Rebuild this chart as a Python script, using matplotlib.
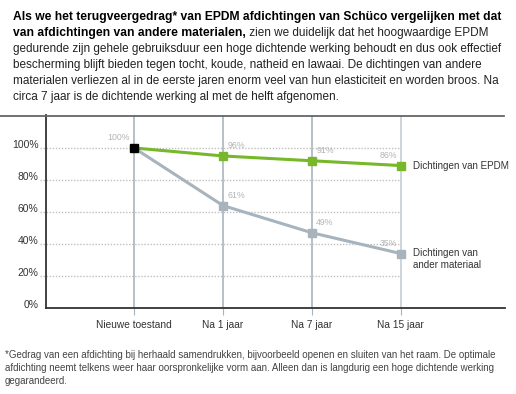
import matplotlib
matplotlib.use("Agg")
from matplotlib import pyplot as plt
from matplotlib.lines import Line2D
from matplotlib.transforms import ScaledTranslation

plt.rcParams['font.family'] = ['Liberation Sans', 'DejaVu Sans']

categories = ["Nieuwe toestand", "Na 1 jaar", "Na 7 jaar", "Na 15 jaar"]
epdm = [100, 95, 92, 89]
epdm_labels = ["100%", "96%", "91%", "86%"]
other = [100, 64, 47, 34]
other_labels = ["", "61%", "49%", "35%"]
yticks = [0, 20, 40, 60, 80, 100]

green = "#76b82a"
grey = "#a7b4bd"
label_grey = "#b4b4b4"
dark = "#333333"

W, H = 516, 394
fig = plt.figure(figsize=(W / 100, H / 100), dpi=100)

# axes placed in pixel coordinates
x0, x1, ytop, ybot = 46, 505, 115, 308
ax = fig.add_axes([x0 / W, 1 - ybot / H, (x1 - x0) / W, (ybot - ytop) / H])
xs = list(range(len(categories)))
ax.set_xlim(-0.99, 4.17)
ax.set_ylim(0, 120.6)

for s in ["top", "right"]:
    ax.spines[s].set_visible(False)
for s in ["left", "bottom"]:
    ax.spines[s].set_color(dark)
    ax.spines[s].set_linewidth(1.3)

# vertical category lines
for i in xs:
    c = "#c5ced4" if i == xs[-1] else "#a9b5bd"
    ax.axvline(i, color=c, lw=1.2, zorder=1)
ax.set_xticks(xs)
ax.set_xticklabels(categories, fontsize=7.3, color=dark)
ax.tick_params(axis="x", length=5, color="#a9b5bd", pad=4)

# dotted horizontal grid
for v in yticks[1:]:
    ax.plot([-1.06, xs[-1]], [v, v], color="#c0c0c0", lw=1.0, ls=(0, (1, 1.2)),
            clip_on=False, zorder=1)
ax.set_yticks(yticks)
ax.set_yticklabels([f"{v}%" for v in yticks], fontsize=7.5, color=dark)
ax.tick_params(axis="y", length=0, pad=5.5)
shift = ScaledTranslation(0, 4 / 100, fig.dpi_scale_trans)
for lab in ax.get_yticklabels():
    lab.set_transform(lab.get_transform() + shift)

ax.plot(xs, other, color=grey, lw=2.2, zorder=3)
ax.plot(xs[1:], other[1:], "s", color=grey, ms=5.5, zorder=4)
ax.plot(xs, epdm, color=green, lw=2.2, zorder=3)
ax.plot(xs[1:], epdm[1:], "s", color=green, ms=5.5, zorder=4)
ax.plot(xs[0], epdm[0], "s", color="black", ms=5.5, zorder=5)

for i in xs:
    right_side = i in (1, 2)
    for vals, labs in ((epdm, epdm_labels), (other, other_labels)):
        if not labs[i]:
            continue
        ax.annotate(labs[i], (i, vals[i]), xytext=(3 if right_side else -3, 4),
                    textcoords="offset points", fontsize=6.3, color=label_grey,
                    ha="left" if right_side else "right", va="bottom")

ax.annotate("Dichtingen van EPDM", (xs[-1], epdm[-1]), xytext=(8.5, 0),
            textcoords="offset points", fontsize=7.1, color=dark, va="center")
ax.annotate("Dichtingen van\nander materiaal", (xs[-1], other[-1]), xytext=(8.5, 4),
            textcoords="offset points", fontsize=7.1, color=dark, va="top",
            linespacing=1.3)

# top rule
fig.add_artist(Line2D([0, 504 / W], [1 - 115.5 / H] * 2, color="#666666", lw=1.3))

# intro paragraph
fs_bold = 8.7
fs = 8.45
line_y = [17, 33, 49, 65, 81, 97]
fig.text(13 / W, 1 - line_y[0] / H,
         "Als we het terugveergedrag* van EPDM afdichtingen van Schüco vergelijken met dat",
         fontsize=fs_bold, fontweight="bold", color="black", va="center")
t2 = fig.text(13 / W, 1 - line_y[1] / H, "van afdichtingen van andere materialen,",
              fontsize=fs_bold, fontweight="bold", color="black", va="center")
ax.annotate(" zien we duidelijk dat het hoogwaardige EPDM", xy=(1, 0),
            xycoords=t2, fontsize=fs, color="#222222", va="bottom", ha="left",
            annotation_clip=False)
rest = [
    "gedurende zijn gehele gebruiksduur een hoge dichtende werking behoudt en dus ook effectief",
    "bescherming blijft bieden tegen tocht, koude, natheid en lawaai. De dichtingen van andere",
    "materialen verliezen al in de eerste jaren enorm veel van hun elasticiteit en worden broos. Na",
    "circa 7 jaar is de dichtende werking al met de helft afgenomen.",
]
for y, line in zip(line_y[2:], rest):
    fig.text(13 / W, 1 - y / H, line, fontsize=fs, color="#222222", va="center")

# footnote
foot = [
    "*Gedrag van een afdichting bij herhaald samendrukken, bijvoorbeeld openen en sluiten van het raam. De optimale",
    "afdichting neemt telkens weer haar oorspronkelijke vorm aan. Alleen dan is langdurig een hoge dichtende werking",
    "gegarandeerd.",
]
for y, line in zip([355, 368, 381], foot):
    fig.text(5 / W, 1 - y / H, line, fontsize=7.05, color="#444444", va="center")

fig.savefig("out.png", dpi=100)
